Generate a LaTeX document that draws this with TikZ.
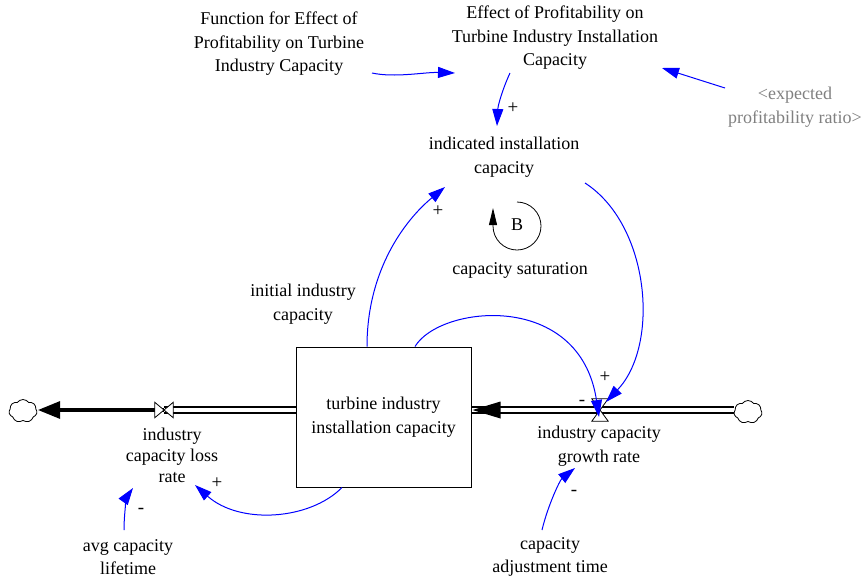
\documentclass[tikz,border=0pt]{standalone}
\usepackage{fontspec}
\setmainfont{Liberation Serif}
\usetikzlibrary{arrows.meta,shapes.symbols}
\definecolor{vblue}{RGB}{0,0,255}
\definecolor{vgray}{RGB}{128,128,128}
\begin{document}
\begin{tikzpicture}[x=1pt,y=1pt,
  lbl/.style={align=center, inner sep=0pt, font=\fontsize{18}{23.5}\selectfont},
  link/.style={vblue, line width=1pt, -{Triangle[length=17pt,width=11pt]}},
  sign/.style={font=\fontsize{19}{20}\selectfont, inner sep=0pt},
  pipe/.style={double, double distance=4.5pt, line width=1.5pt},
  cloudy/.style={cloud, draw, cloud puffs=7, cloud puff arc=110, aspect=1.2, minimum width=28pt, minimum height=23pt, inner sep=0pt, line width=0.8pt, fill=white},
  valveline/.style={line width=0.8pt, fill=white},
]
\useasboundingbox (0,0) rectangle (865,-582);

% text nodes
\node[lbl] (fn) at (279,-44) {Function for Effect of\\Profitability on Turbine\\Industry Capacity};
\node[lbl] (eff) at (555,-38) {Effect of Profitability on\\Turbine Industry Installation\\Capacity};
\node[lbl, text=vgray] (exp) at (795,-107) {\textless expected\\profitability ratio\textgreater};
\node[lbl] (ind) at (504,-157) {indicated installation\\capacity};
\node[lbl] (sat) at (520,-270) {capacity saturation};
\node[lbl] (bl) at (517,-225) {B};
\node[lbl] (init) at (303,-304) {initial industry\\capacity};
\node[lbl, draw, line width=1pt, minimum width=175pt, minimum height=140pt] (stock) at (383.5,-417) {turbine industry\\installation capacity};
\node[lbl] (gl) at (599,-446) {industry capacity\\growth rate};
\node[lbl, font=\fontsize{18}{21}\selectfont] (ll) at (172,-455) {industry\\capacity loss\\rate};
\node[lbl] (avg) at (128,-557) {avg capacity\\lifetime};
\node[lbl] (adj) at (550,-557) {capacity\\adjustment time};

% clouds
\node[cloudy] (cloudL) at (23,-411) {};
\node[cloudy] (cloudR) at (748,-412) {};

% valves
\node[inner sep=0pt, minimum width=16pt, minimum height=22pt] (gv) at (600,-410) {};
\node[inner sep=0pt, minimum width=18pt, minimum height=15pt] (lv) at (164,-410) {};

% pipes
\draw[pipe] (cloudR.west |- gv) -- (stock.east |- gv);
\fill ([xshift=1pt]stock.east |- gv) -- ++(28,8.5) -- ++(0,-17) -- cycle;
\draw[pipe] (stock.west |- lv) -- (lv.center);
\draw[line width=4pt] (lv.center) -- ([xshift=20pt]cloudL.east |- lv);
\fill ([xshift=1pt]cloudL.east |- lv) -- ++(22,9) -- ++(0,-18) -- cycle;

% valve shapes
\draw[valveline] (gv.north west) -- (gv.north east) -- (gv.center) -- cycle;
\draw[valveline] (gv.south west) -- (gv.south east) -- (gv.center) -- cycle;
\draw[valveline] (lv.north west) -- (lv.south west) -- (lv.center) -- cycle;
\draw[valveline] (lv.north east) -- (lv.south east) -- (lv.center) -- cycle;

% loop symbol
\draw[line width=0.8pt, -{Triangle[length=17pt,width=8pt]}] ([yshift=23pt]bl.center) arc[start angle=90, end angle=-180, radius=24pt] -- ++(0,18);

% connectors
\draw[link] ([shift={(93pt,-29pt)}]fn.center) .. controls (395,-78) and (425,-72) .. ([shift={(-100pt,-35pt)}]eff.center);
\draw[link] ([shift={(-70pt,19pt)}]exp.center) -- ([shift={(107pt,-30pt)}]eff.center);
\draw[link] ([shift={(-45pt,-35pt)}]eff.center) .. controls (503,-88) and (498,-105) .. ([shift={(-7pt,31pt)}]ind.center);
\draw[link] ([xshift=-16.5pt]stock.north) .. controls (367,-270) and (405,-220) .. ([shift={(-59pt,-30pt)}]ind.center);
\draw[link] ([shift={(81pt,-26pt)}]ind.center) .. controls (650,-225) and (660,-345) .. ([shift={(6pt,8pt)}]gv.center);
\draw[link] ([xshift=31.5pt]stock.north) .. controls (440,-305) and (580,-290) .. ([shift={(-1pt,-7pt)}]gv.center);
\draw[link] ([xshift=-41.5pt]stock.south) .. controls (310,-520) and (240,-525) .. ([shift={(23pt,-30pt)}]ll.center);
\draw[link] ([shift={(-4pt,27pt)}]avg.center) .. controls (124,-510) and (128,-495) .. ([shift={(-39pt,-33pt)}]ll.center);
\draw[link] ([shift={(-8pt,27pt)}]adj.center) .. controls (548,-505) and (560,-480) .. ([shift={(-24pt,-22pt)}]gl.center);

% polarity signs
\node[sign] (s1) at (513,-108) {+};
\node[sign] (s2) at (438,-211) {+};
\node[sign] (s3) at (605,-377) {+};
\node[sign] (s4) at (217,-483) {+};
\node[sign] (s5) at (582,-403) {-};
\node[sign] (s6) at (141,-511) {-};
\node[sign] (s7) at (574,-493) {-};
\end{tikzpicture}
\end{document}
